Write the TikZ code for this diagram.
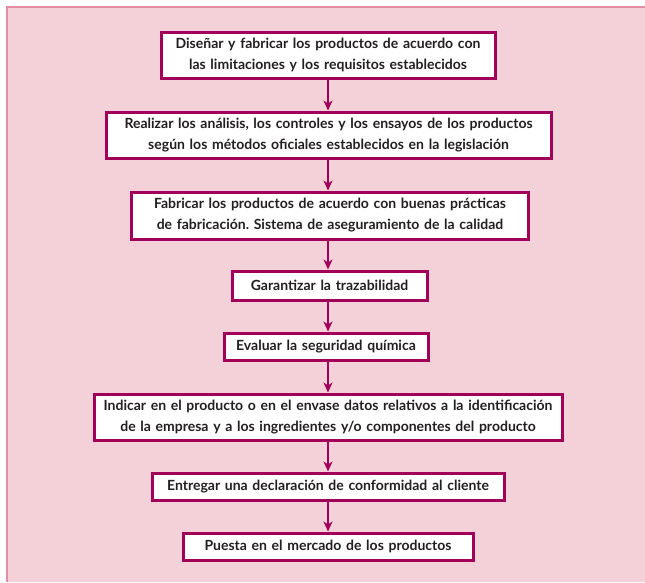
\documentclass[tikz,border=0pt]{standalone}
\usepackage{fontspec}
\setmainfont{Lato}
\frenchspacing
\usetikzlibrary{arrows.meta}
\definecolor{framecol}{HTML}{A0005A}
\definecolor{backcol}{HTML}{F4D0D8}
\definecolor{edgecol}{HTML}{E68DA6}
\definecolor{textcol}{HTML}{231F20}
\tikzset{
  stepbox/.style={draw=framecol, line width=3pt, fill=white, align=center, text=textcol,
    inner xsep=0pt, inner ysep=2pt, font=\bfseries\fontsize{14}{21}\selectfont},
  flow/.style={draw=framecol, line width=2.2pt, -{Stealth[length=10pt,width=9pt,inset=3pt]}}
}
\begin{document}
\begin{tikzpicture}[x=1pt,y=-1pt]
\useasboundingbox (0,0) rectangle (645,582);
\fill[backcol] (7,7) rectangle (645,582);
\draw[edgecol, line width=1.5pt] (7,582) -- (7,7) -- (645,7);
\node[stepbox, text width=334pt, minimum height=46pt] (s1) at (328,55)
  {Diseñar y fabricar los productos de acuerdo con\\las limitaciones y los requisitos establecidos};
\node[stepbox, text width=445pt, minimum height=46pt] (s2) at (328.5,135)
  {Realizar los análisis, los controles y los ensayos de los productos\\según los métodos oficiales establecidos en la legislación};
\node[stepbox, text width=397pt, minimum height=47pt] (s3) at (330,215.5)
  {Fabricar los productos de acuerdo con buenas prácticas\\de fabricación. Sistema de aseguramiento de la calidad};
\node[stepbox, text width=195pt, minimum height=29pt] (s4) at (329.5,285.5)
  {Garantizar la trazabilidad};
\node[stepbox, text width=204pt, minimum height=27pt] (s5) at (326,346.5)
  {Evaluar la seguridad química};
\node[stepbox, text width=468pt, minimum height=46pt] (s6) at (328,417)
  {Indicar en el producto o en el envase datos relativos a la identificación\\de la empresa y a los ingredientes y/o componentes del producto};
\node[stepbox, text width=352pt, minimum height=27pt] (s7) at (328,486.5)
  {Entregar una declaración de conformidad al cliente};
\node[stepbox, text width=290pt, minimum height=27pt] (s8) at (328,546.5)
  {Puesta en el mercado de los productos};
\foreach \a/\b in {s1/s2,s2/s3,s3/s4,s4/s5,s5/s6,s6/s7,s7/s8}
  \draw[flow] (\a.south -| 328,0) -- (\b.north -| 328,0);
\end{tikzpicture}
\end{document}
